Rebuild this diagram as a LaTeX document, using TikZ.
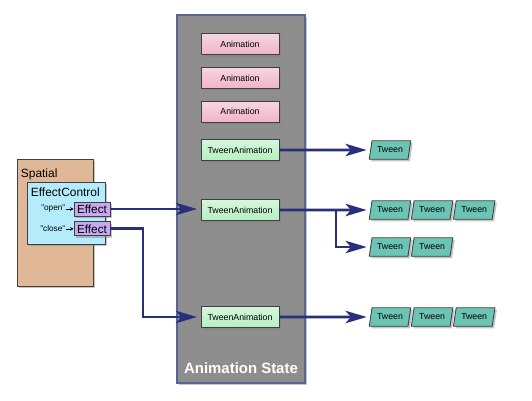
\documentclass[tikz,border=0pt]{standalone}
\usepackage{fontspec}
\setmainfont{Liberation Sans}
\usetikzlibrary{shapes, arrows.meta, positioning, calc, chains, shadows}

\definecolor{animpink}{HTML}{F0B4C8}
\definecolor{animgreen}{HTML}{B4F0C0}
\definecolor{tweenteal}{HTML}{6CC4B4}
\definecolor{spatialtan}{HTML}{E0B898}
\definecolor{ctrlcyan}{HTML}{B4ECFC}
\definecolor{effpurple}{HTML}{C8A8F0}
\definecolor{stategray}{HTML}{8E8E8E}
\definecolor{stateedge}{HTML}{5A6496}
\definecolor{linknavy}{HTML}{28307C}

\tikzset{
  dropped/.style={drop shadow={shadow xshift=0.04cm, shadow yshift=-0.04cm, opacity=0.45}},
  box/.style={draw=black!75, line width=0.5pt, inner sep=0pt, dropped},
  anim/.style={box, top color=animpink!55!white, bottom color=animpink, minimum width=1.56cm, minimum height=0.42cm, font=\fontsize{5}{6}\selectfont},
  tweenanim/.style={anim, top color=animgreen!55!white, bottom color=animgreen},
  tween/.style={box, trapezium, trapezium stretches=true, trapezium left angle=72, trapezium right angle=108, fill=tweenteal, minimum width=0.83cm, minimum height=0.37cm, font=\fontsize{5}{6}\selectfont},
  effect/.style={box, fill=effpurple, minimum width=0.72cm, minimum height=0.28cm, font=\fontsize{6.7}{8}\selectfont},
  link/.style={draw=linknavy, line width=1.6pt, -{Stealth[length=12pt, width=7pt, inset=3pt]}, shorten >=2pt}
}

\begin{document}
\begin{tikzpicture}[x=0.02cm, y=-0.02cm, node distance=0.24cm]
	\useasboundingbox (0,0) rectangle (532,400);
	\node[draw=stateedge, line width=0.8pt, fill=stategray, minimum width=2.56cm, minimum height=7.36cm, dropped] (state) at (241,199) {};
	\node[font=\bfseries\fontsize{8.5}{10}\selectfont, text=white] (statename) at (241,368) {Animation State};
	\node[anim] (a1) at (240,44) {Animation};
	\node[anim, below=of a1] (a2) {Animation};
	\node[anim, below=of a2] (a3) {Animation};
	\node[tweenanim] (ta1) at (240,150) {TweenAnimation};
	\node[tweenanim] (ta2) at (240,210) {TweenAnimation};
	\node[tweenanim] (ta3) at (240,317) {TweenAnimation};

	\node[box, fill=spatialtan, minimum width=1.52cm, minimum height=2.54cm, label={[font=\fontsize{6.8}{8}\selectfont, anchor=north west, inner sep=0pt, xshift=0.08cm, yshift=-0.2cm]north west:Spatial}] (spatial) at (55,222.5) {};
	\node[box, fill=ctrlcyan, minimum width=1.56cm, minimum height=1.24cm, label={[font=\fontsize{6.8}{8}\selectfont, anchor=north west, inner sep=0pt, xshift=0.08cm, yshift=-0.12cm]north west:EffectControl}] (ctrl) at (66,213) {};
	\node[effect] (eopen) at (92,209) {Effect};
	\node[effect, below=0.1cm of eopen] (eclose) {Effect};
	\node[font=\fontsize{4.7}{6}\selectfont, inner sep=0pt, left=0.16cm of eopen] (lopen) {"open"};
	\node[font=\fontsize{4.7}{6}\selectfont, inner sep=0pt, left=0.16cm of eclose] (lclose) {"close"};
	\draw[-{Stealth[length=2pt, width=2pt]}, line width=0.4pt] (lopen) -- (eopen);
	\draw[-{Stealth[length=2pt, width=2pt]}, line width=0.4pt] (lclose) -- (eclose);

	\node[tween] (t11) at (390,150) {Tween};
	\begin{scope}[start chain=2 going right, node distance=0.05cm]
		\node[tween, on chain=2] (t21) at (390,210) {Tween};
		\node[tween, on chain=2] (t22) {Tween};
		\node[tween, on chain=2] (t23) {Tween};
	\end{scope}
	\begin{scope}[start chain=3 going right, node distance=0.05cm]
		\node[tween, on chain=3] (t31) at (390,247) {Tween};
		\node[tween, on chain=3] (t32) {Tween};
	\end{scope}
	\begin{scope}[start chain=4 going right, node distance=0.05cm]
		\node[tween, on chain=4] (t41) at (390,317) {Tween};
		\node[tween, on chain=4] (t42) {Tween};
		\node[tween, on chain=4] (t43) {Tween};
	\end{scope}

	\coordinate (split) at (336,210);
	\coordinate (drop) at (143,317);
	\draw[link] (ta1) -- (t11);
	\draw[link] (ta2) -- (t21);
	\draw[link] (split) |- (t31);
	\draw[link] (ta3) -- (t41);
	\draw[link] (eopen) -- (eopen -| ta2.west);
	\draw[link] (eclose) -| (drop) -- (ta3);
\end{tikzpicture}
\end{document}
